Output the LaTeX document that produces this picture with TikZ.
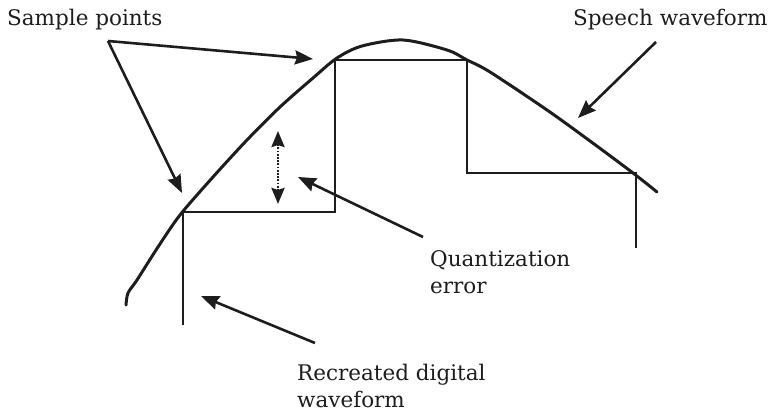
\documentclass[tikz,border=0pt]{standalone}
\usepackage{fontspec}
\setmainfont{DejaVu Serif}
\usepackage{tikz}
\usetikzlibrary{arrows.meta}
\definecolor{tinta}{RGB}{30, 28, 28}

\begin{document}
\begin{tikzpicture}[x=1pt,y=-1pt,
    wave/.style={line width=3pt,tinta,line cap=round},
    stair/.style={line width=2.6pt,tinta,line join=miter},
    pointer/.style={line width=2.6pt,tinta,-{Stealth[length=18pt,width=14pt,inset=2pt]}},
    lbl/.style={font=\fontsize{21.5}{27}\selectfont,inner sep=0pt,align=left,text=tinta}]
  \useasboundingbox (0,0) rectangle (771,414);
  \coordinate (s1) at (183,212);
  \coordinate (s2) at (335,60);
  \coordinate (s3) at (467,60);
  \coordinate (s4) at (636,173);
  \draw[wave] plot[smooth,tension=0.5] coordinates {(126,305) (128,293) (137,280) (158,247)
    (180,215) (213,177) (247,140) (280,107) (313,78) (337,58) (362,46) (403,40)
    (447,50) (467,60) (490,72) (547,110) (590,141) (633,173) (657,192)};
  \draw[stair] (183,325) -- (s1) -- (335,212) -- (s2) -- (s3) -- (467,173) -- (s4) -- (636,248);
  \node[lbl,anchor=base west] (sample) at (7,26) {Sample points};
  \node[lbl,anchor=base west] (speech) at (573,26) {Speech waveform};
  \node[lbl,anchor=north west] (quant) at (430,250) {Quantization\\error};
  \node[lbl,anchor=north west] (recreated) at (297,364) {Recreated digital\\waveform};
  \coordinate (fork) at (108,41);
  \coordinate (tip1) at (313,59);
  \coordinate (tip2) at (182,193);
  \coordinate (speechfrom) at (656,42);
  \coordinate (tip3) at (578,118);
  \coordinate (quantfrom) at (423,237);
  \coordinate (tip4) at (298,177);
  \coordinate (recfrom) at (315,343);
  \coordinate (tip5) at (201,296);
  \coordinate (errtop) at (278,131);
  \coordinate (errbot) at (278,204);
  \draw[pointer] (fork) -- (tip1);
  \draw[pointer] (fork) -- (tip2);
  \draw[pointer] (speechfrom) -- (tip3);
  \draw[pointer] (quantfrom) -- (tip4);
  \draw[pointer] (recfrom) -- (tip5);
  \draw[line width=2.6pt,tinta,dash pattern=on 1.8pt off 1.4pt,
    {Stealth[length=16pt,width=13pt,inset=2pt]}-{Stealth[length=16pt,width=13pt,inset=2pt]}] (errtop) -- (errbot);
\end{tikzpicture}
\end{document}
